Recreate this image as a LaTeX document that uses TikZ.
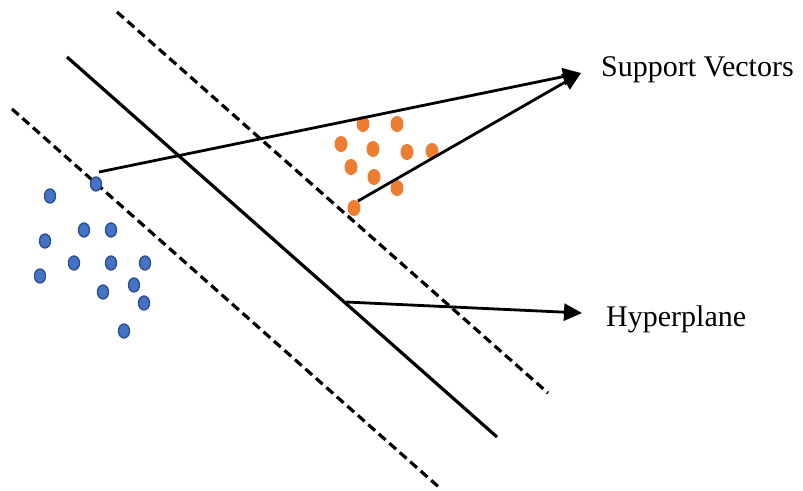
\documentclass[tikz,border=0pt]{standalone}
\usepackage{fontspec}
\setmainfont{Liberation Serif}
\usetikzlibrary{arrows.meta,shapes.geometric}
\definecolor{bluefill}{HTML}{4472C4}
\definecolor{blueedge}{HTML}{2F528F}
\definecolor{orangefill}{HTML}{ED7D31}
\begin{document}
\begin{tikzpicture}[x=1pt,y=-1pt,
  bdot/.style={ellipse,draw=blueedge,line width=1.4pt,fill=bluefill,minimum width=11pt,minimum height=14pt,inner sep=0pt},
  odot/.style={ellipse,fill=orangefill,minimum width=13pt,minimum height=16pt,inner sep=0pt},
  margin/.style={line width=3.2pt,dash pattern=on 9pt off 5pt},
  plane/.style={line width=3.2pt},
  pointer/.style={line width=2.8pt,-{Triangle[length=18pt,width=17pt]}},
  lbl/.style={font=\fontsize{30}{33}\selectfont,anchor=base west,inner sep=0pt}]
\useasboundingbox (0,0) rectangle (803,490);
% lines
\coordinate (d1a) at (117,12); \coordinate (d1b) at (548,393);
\coordinate (sa) at (67,57); \coordinate (sb) at (497,437);
\coordinate (d2a) at (12,109); \coordinate (d2b) at (441,489);
\draw[margin] (d1a) -- (d1b);
\draw[plane] (sa) -- (sb);
\draw[margin] (d2a) -- (d2b);
% blue points
\foreach \x/\y [count=\i] in {50/196,96/184,84/230,111/230,45/241,74/263,111/263,145/263,40/276,134/285,103/292,144/303,124/331}
  \node[bdot] (b\i) at (\x,\y) {};
% orange points
\foreach \x/\y [count=\i] in {363/124,397/124,341/144,373/149,407/152,432/151,351/167,374/177,397/188,354/208}
  \node[odot] (o\i) at (\x,\y) {};
% labels
\node[lbl] (sv) at (601,76) {Support Vectors};
\node[lbl] (hp) at (606,326) {Hyperplane};
\coordinate (svtip) at (581,73);
\coordinate (hpstart) at (346,302);
\coordinate (hptip) at (582,313);
\coordinate (bstart) at (99,172);
\coordinate (ostart) at (358,201);
\draw[pointer] (bstart) -- (svtip);
\draw[pointer] (ostart) -- (svtip);
\draw[pointer] (hpstart) -- (hptip);
\end{tikzpicture}
\end{document}
